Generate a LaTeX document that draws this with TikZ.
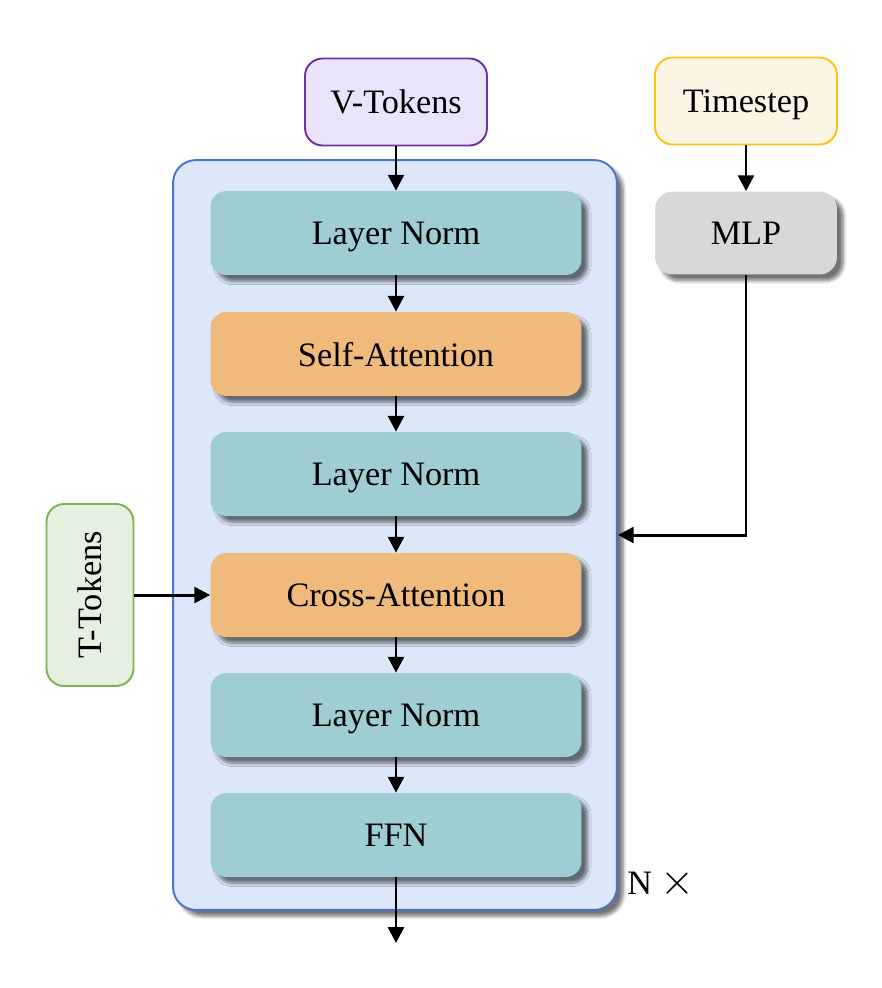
\documentclass[tikz,border=0pt]{standalone}
\usepackage{fontspec}
\setmainfont{Liberation Serif}
\usetikzlibrary{arrows.meta,shadows.blur}
\definecolor{normfill}{HTML}{9ECDD2}
\definecolor{attnfill}{HTML}{F0BA7D}
\definecolor{blockfill}{HTML}{DCE8FA}
\definecolor{blockline}{HTML}{4A74C8}
\definecolor{vfill}{HTML}{E9E3FB}
\definecolor{vline}{HTML}{7030A0}
\definecolor{tsfill}{HTML}{FCF4E5}
\definecolor{tsline}{HTML}{FFC20E}
\definecolor{tfill}{HTML}{E6F0E1}
\definecolor{tline}{HTML}{7CB351}
\definecolor{mlpfill}{HTML}{D8D8D8}
\begin{document}
\begin{tikzpicture}[x=0.02cm, y=-0.02cm,
    font=\fontsize{19.5}{23}\selectfont,
    shade/.style = {blur shadow={shadow xshift=3.5pt, shadow yshift=-3.5pt, shadow blur steps=6, shadow blur radius=2pt, shadow opacity=55}},
    layer/.style = {rounded corners=9pt, minimum width=7.42cm, minimum height=1.68cm, text depth=0pt, shade},
    norm/.style = {layer, fill=normfill},
    attn/.style = {layer, fill=attnfill},
    inbox/.style = {draw, line width=1.1pt, rounded corners=10pt, minimum width=3.64cm, minimum height=1.74cm, text depth=0pt},
    arr/.style = {-{Triangle[length=9pt,width=9pt]}, line width=1.7pt}]
    \useasboundingbox (0,0) rectangle (882,988);

    \node[draw=blockline, fill=blockfill, line width=1.1pt, rounded corners=13pt,
          minimum width=8.88cm, minimum height=15cm, shade] (block) at (395,535) {};

    \node[inbox, draw=vline, fill=vfill] (vtok) at (396,102) {V-Tokens};
    \node[inbox, draw=tsline, fill=tsfill] (time) at (746,101) {Timestep};
    \node[fill=mlpfill, rounded corners=10pt, minimum width=3.64cm, minimum height=1.66cm, text depth=0pt, shade] (mlp) at (746,233) {MLP};
    \node[inbox, draw=tline, fill=tfill, rotate=90] (ttok) at (90,595) {T-Tokens};

    \node[norm] (ln1) at (396,233) {Layer Norm};
    \node[attn] (sa) at (396,354) {Self-Attention};
    \node[norm] (ln2) at (396,474) {Layer Norm};
    \node[attn] (ca) at (396,595) {Cross-Attention};
    \node[norm] (ln3) at (396,715) {Layer Norm};
    \node[norm] (ffn) at (396,835) {FFN};

    \node (rep) at (661,884) {N {\fontsize{24}{24}\selectfont$\times$}};
    \coordinate (out) at (396,943);
    \coordinate (bend) at (746,535);

    \draw[arr] (vtok) -- (ln1);
    \draw[arr] (ln1) -- (sa);
    \draw[arr] (sa) -- (ln2);
    \draw[arr] (ln2) -- (ca);
    \draw[arr] (ca) -- (ln3);
    \draw[arr] (ln3) -- (ffn);
    \draw[arr] (ffn) -- (out);
    \draw[arr] (time) -- (mlp);
    \draw[arr] (ttok.south) -- (ca);
    \draw[arr] (mlp) -- (bend) -- (block.east |- bend);
\end{tikzpicture}
\end{document}
